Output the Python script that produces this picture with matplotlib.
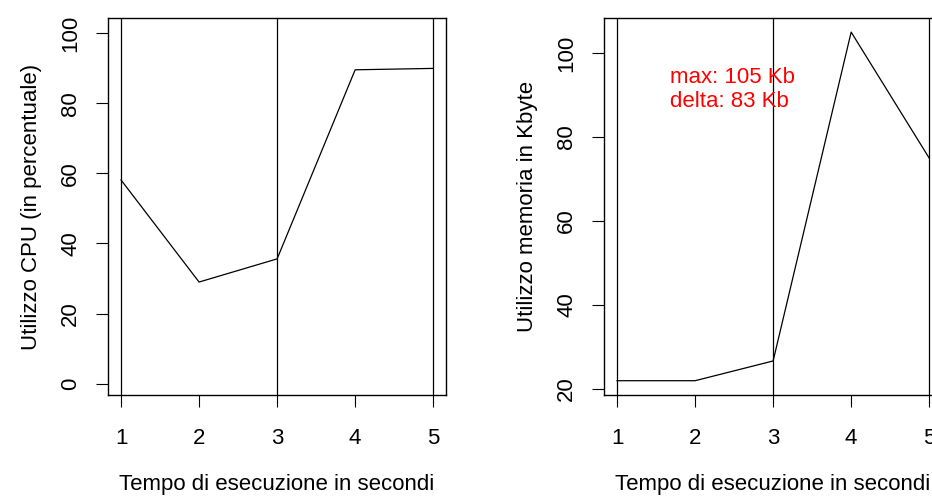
import matplotlib
matplotlib.use("Agg")
import matplotlib.pyplot as plt

plt.rcParams["font.family"] = ["Liberation Sans", "DejaVu Sans"]
plt.rcParams["font.size"] = 16

seconds = [1, 2, 3, 4, 5]
cpu_pct = [58.1, 29.0, 35.6, 89.5, 89.9]
mem_kb = [22, 22, 26.7, 105, 75]
marks = [1, 3, 5]

cpu_ticks = [0, 20, 40, 60, 80, 100]
mem_ticks = [20, 40, 60, 80, 100]

x_label = "Tempo di esecuzione in secondi"
cpu_label = "Utilizzo CPU (in percentuale)"
mem_label = "Utilizzo memoria in Kbyte"
note = f"max: {max(mem_kb):.0f} Kb\ndelta: {max(mem_kb) - min(mem_kb):.0f} Kb"


def style_axes(ax, yticks):
    ax.set_xticks(seconds)
    ax.set_yticks(yticks)
    ax.tick_params(direction="out", length=8.6, width=0.8, labelsize=16)
    ax.tick_params(axis="x", pad=15)
    ax.tick_params(axis="y", pad=11, labelrotation=90)
    for lab in ax.get_yticklabels():
        lab.set_va("center")
    for sp in ax.spines.values():
        sp.set_linewidth(1.0)
    for x in marks:
        ax.axvline(x, color="black", lw=0.9)


fig = plt.figure(figsize=(9.32, 5.01), dpi=100)

ax1 = fig.add_axes([0.1162, 0.2116, 0.362, 0.752])
ax1.plot(seconds, cpu_pct, color="black", lw=0.9)
ax1.set_xlim(0.837, 5.16)
ax1.set_ylim(-3.2, 104.2)
style_axes(ax1, cpu_ticks)
ax1.set_xlabel(x_label, labelpad=18)
ax1.set_ylabel(cpu_label, labelpad=13)

ax2 = fig.add_axes([0.6484, 0.2116, 0.362, 0.752])
ax2.plot(seconds, mem_kb, color="black", lw=0.9)
ax2.set_xlim(0.837, 5.16)
ax2.set_ylim(18.6, 108.3)
style_axes(ax2, mem_ticks)
ax2.set_xlabel(x_label, labelpad=18)
ax2.set_ylabel(mem_label, labelpad=13)
ax2.text(1.675, 91.3, note, color="#ff0000", ha="left", va="center",
         fontsize=16, linespacing=1.2)

fig.savefig("out.png", dpi=100)
